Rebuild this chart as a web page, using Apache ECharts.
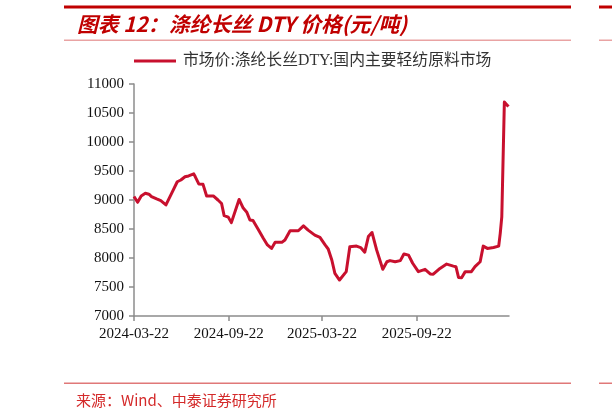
<!DOCTYPE html>
<html>
<head>
<meta charset="utf-8">
<title>涤纶长丝DTY价格</title>
<script src="https://cdn.jsdelivr.net/npm/echarts@6/dist/echarts.min.js"></script>
<style>
	html, body { margin: 0; padding: 0; background: #fff; }
	#main { width: 612px; height: 418px; }
</style>
</head>
<body>
<div id="main"></div>
<script>
// 数据：日期与价格（元/吨）
var dates = [
	'2024-03-22', '2024-03-29', '2024-04-05', '2024-04-13', '2024-04-20', '2024-04-25',
	'2024-05-05', '2024-05-13', '2024-05-23', '2024-06-03', '2024-06-14', '2024-06-21',
	'2024-06-29', '2024-07-06', '2024-07-16', '2024-07-19', '2024-07-26', '2024-08-03',
	'2024-08-10', '2024-08-23', '2024-09-01', '2024-09-08', '2024-09-13', '2024-09-21',
	'2024-09-27', '2024-10-12', '2024-10-20', '2024-10-27', '2024-11-02', '2024-11-08',
	'2024-11-18', '2024-11-28', '2024-12-06', '2024-12-14', '2024-12-21', '2025-01-03',
	'2025-01-09', '2025-01-19', '2025-02-04', '2025-02-14', '2025-02-23', '2025-03-08',
	'2025-03-18', '2025-03-28', '2025-04-03', '2025-04-10', '2025-04-16', '2025-04-25',
	'2025-05-08', '2025-05-15', '2025-05-28', '2025-06-05', '2025-06-13', '2025-06-20',
	'2025-06-27', '2025-07-06', '2025-07-18', '2025-07-26', '2025-08-01', '2025-08-11',
	'2025-08-21', '2025-08-28', '2025-09-06', '2025-09-14', '2025-09-25', '2025-10-08',
	'2025-10-18', '2025-10-24', '2025-11-06', '2025-11-19', '2025-12-02', '2025-12-07',
	'2025-12-12', '2025-12-18', '2025-12-25', '2026-01-06', '2026-01-13', '2026-01-23',
	'2026-01-29', '2026-02-06', '2026-02-18', '2026-02-28', '2026-03-03', '2026-03-06',
	'2026-03-11', '2026-03-16', '2026-03-19'
];
var prices = [
	9060, 8960, 9070, 9115, 9100, 9060,
	9020, 8990, 8915, 9115, 9315, 9345,
	9400, 9415, 9450, 9400, 9275, 9270,
	9070, 9070, 9000, 8940, 8730, 8705,
	8610, 9010, 8860, 8790, 8655, 8645,
	8495, 8340, 8225, 8165, 8270, 8270,
	8310, 8470, 8470, 8555, 8480, 8395,
	8355, 8225, 8155, 7965, 7735, 7620,
	7765, 8195, 8205, 8180, 8100, 8370,
	8440, 8140, 7805, 7935, 7955, 7935,
	7955, 8070, 8050, 7910, 7765, 7805,
	7725, 7720, 7820, 7895, 7860, 7850,
	7665, 7660, 7765, 7765, 7850, 7935,
	8205, 8165, 8180, 8205, 8425, 8710,
	10690, 10640, 10610
];
var xTickDates = ['2024-03-22', '2024-09-22', '2025-03-22', '2025-09-22'];
var xMin = '2024-03-22';
var xMax = '2026-03-20';
var seriesName = '市场价:涤纶长丝DTY:国内主要轻纺原料市场';
var titleText = '图表 12：涤纶长丝 DTY 价格(元/吨)';
var sourceText = '来源：Wind、中泰证券研究所';

function toTime(s) {
	return new Date(s + 'T00:00:00').getTime();
}

var myChart = echarts.init(document.getElementById('main'), null, { renderer: 'canvas' });

var seriesData = [];
for (var i = 0; i < dates.length; i++) {
	seriesData.push([dates[i], prices[i]]);
}
var tickValues = xTickDates.map(toTime);

var serif = '"Liberation Serif", "Times New Roman", serif';
var option = {
	backgroundColor: '#fff',
	animation: false,
	graphic: [
		// 顶部粗红线
		{ type: 'rect', shape: { x: 64, y: 5.5, width: 507, height: 3 }, style: { fill: '#C00000' } },
		{ type: 'rect', shape: { x: 599, y: 5.5, width: 13, height: 3 }, style: { fill: '#C00000' } },
		// 标题下细线
		{ type: 'rect', shape: { x: 64, y: 39.5, width: 507, height: 1.5 }, style: { fill: '#E9A3A3' } },
		{ type: 'rect', shape: { x: 599, y: 39.5, width: 13, height: 1.5 }, style: { fill: '#E9A3A3' } },
		// 底部细线
		{ type: 'rect', shape: { x: 64, y: 382.5, width: 507, height: 1.5 }, style: { fill: '#E07878' } },
		{ type: 'rect', shape: { x: 599, y: 382.5, width: 13, height: 1.5 }, style: { fill: '#E07878' } },
		{
			type: 'text', x: 77, y: 24.5,
			style: {
				text: titleText, fill: '#C00000', verticalAlign: 'middle',
				font: 'italic bold 20.8px "Noto Sans CJK SC", sans-serif'
			}
		},
		{
			type: 'text', x: 76, y: 400,
			style: {
				text: sourceText, fill: '#D42A2A', verticalAlign: 'middle',
				font: '15px "Noto Sans CJK SC", sans-serif'
			}
		}
	],
	legend: {
		left: 134,
		top: 53,
		padding: 0,
		icon: 'rect',
		itemWidth: 42,
		itemHeight: 3,
		textStyle: {
			fontSize: 15.8,
			color: '#333',
			fontFamily: '"Liberation Serif", "Noto Sans CJK SC", serif',
			padding: [0, 0, 0, 2]
		},
		data: [seriesName]
	},
	grid: {
		left: 134,
		right: 103,
		top: 84,
		bottom: 102,
		containLabel: false
	},
	xAxis: {
		type: 'time',
		min: xMin,
		max: xMax,
		axisLine: { lineStyle: { color: '#8c8c8c', width: 1.5 } },
		axisTick: {
			show: true, length: 5, inside: false,
			customValues: tickValues,
			lineStyle: { color: '#8c8c8c', width: 1.5 }
		},
		axisLabel: {
			customValues: tickValues,
			formatter: '{yyyy}-{MM}-{dd}',
			fontSize: 15,
			color: '#111',
			fontFamily: serif,
			margin: 11
		},
		splitLine: { show: false }
	},
	yAxis: {
		type: 'value',
		min: 7000,
		max: 11000,
		interval: 500,
		axisLine: { show: true, lineStyle: { color: '#8c8c8c', width: 1.5 } },
		axisTick: { show: true, length: 5, lineStyle: { color: '#8c8c8c', width: 1.5 } },
		axisLabel: {
			fontSize: 15,
			color: '#111',
			fontFamily: serif,
			margin: 10,
			formatter: function (v) { return String(v); }
		},
		splitLine: { show: false }
	},
	series: [
		{
			name: seriesName,
			type: 'line',
			data: seriesData,
			showSymbol: false,
			symbol: 'none',
			lineStyle: { color: '#C8102E', width: 3, join: 'round' },
			itemStyle: { color: '#C8102E' }
		}
	]
};
myChart.setOption(option);
</script>
</body>
</html>
